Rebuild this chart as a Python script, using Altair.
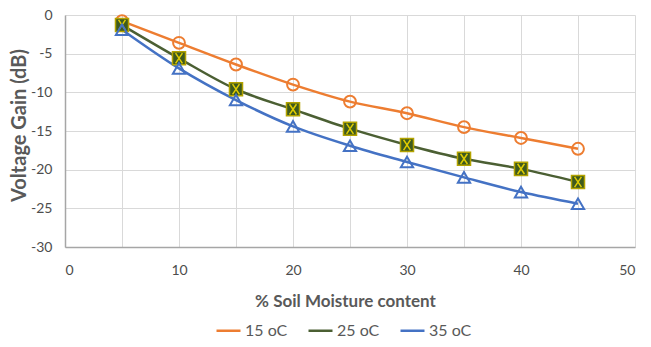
import altair as alt
import pandas as pd

moisture = [5, 10, 15, 20, 25, 30, 35, 40, 45]
gain_15 = [-0.8, -3.6, -6.4, -9.0, -11.2, -12.7, -14.5, -15.9, -17.3]
gain_25 = [-1.3, -5.6, -9.6, -12.2, -14.7, -16.8, -18.6, -19.9, -21.6]
gain_35 = [-1.9, -6.9, -11.0, -14.4, -16.9, -19.0, -21.0, -22.9, -24.4]
series_names = ["15 oC", "25 oC", "35 oC"]
x_ticks = [0, 5, 10, 15, 20, 25, 30, 35, 40, 45, 50]
y_ticks = [-30, -25, -20, -15, -10, -5, 0]

rows = []
for name, vals in zip(series_names, [gain_15, gain_25, gain_35]):
    for m, g in zip(moisture, vals):
        rows.append({"moisture": m, "gain": g, "series": name})
df = pd.DataFrame(rows)

line_colors = ["#ED7D31", "#4B5F33", "#4472C4"]
FONT = "Lato"
GREY = "#595959"
LABEL = "#4D4D4D"

x_enc = alt.X(
    "moisture:Q",
    scale=alt.Scale(domain=[0, 50], nice=False),
    axis=alt.Axis(
        values=x_ticks,
        labelExpr="datum.value % 10 == 0 ? '' + datum.value : ''",
        title="% Soil Moisture content",
        ticks=False,
        labelPadding=16,
        titleX=280,
        titleY=46,
        titleBaseline="top",
    ),
)
y_enc = alt.Y(
    "gain:Q",
    scale=alt.Scale(domain=[-30, 0], nice=False),
    axis=alt.Axis(
        values=y_ticks,
        labelExpr="'' + datum.value",
        title="Voltage Gain (dB)",
        ticks=False,
        labelPadding=13,
        titleX=-46,
        titleY=110,
        titleBaseline="middle",
        titleFontSize=20,
    ),
)

base = alt.Chart(df)

lines = base.mark_line(interpolate="monotone", strokeWidth=2.5).encode(
    x=x_enc,
    y=y_enc,
    color=alt.Color(
        "series:N",
        scale=alt.Scale(domain=series_names, range=line_colors),
        legend=alt.Legend(
            title=None,
            orient="none",
            legendX=150,
            legendY=302,
            direction="horizontal",
            symbolType="stroke",
            symbolSize=576,
            symbolStrokeWidth=2.5,
            labelFontSize=16,
            labelFont=FONT,
            labelColor=GREY,
            labelOffset=3,
            columnPadding=15,
        ),
    ),
    detail="series:N",
)

circles = base.transform_filter(alt.datum.series == "15 oC").mark_point(
    shape="circle", filled=False, size=140, strokeWidth=2, color="#ED7D31", opacity=1
).encode(x=x_enc, y=y_enc)

squares = base.transform_filter(alt.datum.series == "25 oC").mark_point(
    shape="square", filled=True, size=170, fill="#3E5A1E", stroke="#B3A300",
    strokeWidth=1.5, opacity=1
).encode(x=x_enc, y=y_enc)

xs = base.transform_filter(alt.datum.series == "25 oC").mark_point(
    shape="M-0.6,-0.9L0.6,0.9M0.6,-0.9L-0.6,0.9", filled=False, size=130,
    stroke="#E0CC00", strokeWidth=1.5, opacity=1
).encode(x=x_enc, y=y_enc)

triangles = base.transform_filter(alt.datum.series == "35 oC").mark_point(
    shape="triangle-up", filled=False, size=150, strokeWidth=2, color="#4472C4", opacity=1
).encode(x=x_enc, y=y_enc)

chart = (
    alt.layer(lines, circles, squares, xs, triangles)
    .properties(
        width=570,
        height=232,
        autosize=alt.AutoSizeParams(type="none"),
        padding={"left": 57, "top": 7, "right": 8, "bottom": 92},
    )
    .configure_view(stroke=None)
    .configure_axis(
        grid=True,
        gridColor="#D9D9D9",
        gridWidth=1,
        domainColor="#A6A6A6",
        domainWidth=1.5,
        labelFont=FONT,
        labelFontSize=14,
        labelColor=LABEL,
        titleFont=FONT,
        titleFontSize=17,
        titleFontWeight="bold",
        titleColor=GREY,
    )
)

chart.save("out.html", embed_options={"renderer": "svg", "actions": False})
